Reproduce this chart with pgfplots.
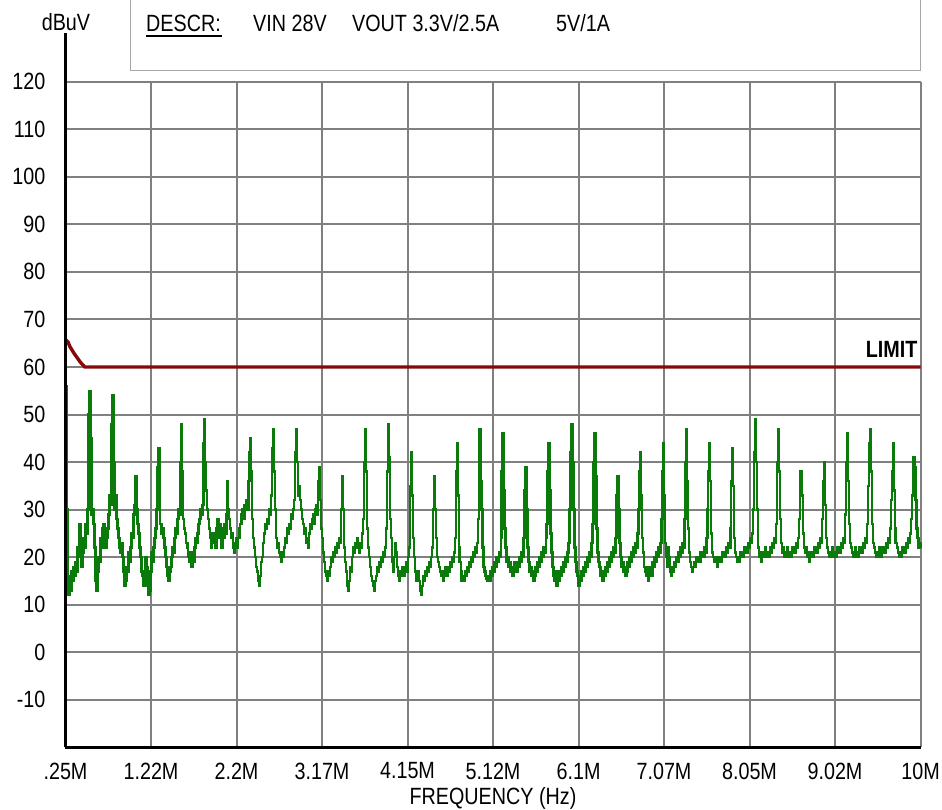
\documentclass[border=0pt]{standalone}
\usepackage{pgfplots}
\pgfplotsset{compat=1.18}
\usepackage{fontspec}
\setmainfont[FakeStretch=0.84]{Liberation Sans}
\definecolor{trace}{RGB}{10,122,10}
\definecolor{limitc}{RGB}{135,8,8}
\definecolor{gridc}{RGB}{128,128,128}
\newcommand{\lbl}{\fontsize{23.5}{28}\selectfont}
\begin{document}
\begin{tikzpicture}
\begin{axis}[
 name=ax, anchor=south west,
 width=855pt, height=665.7pt, scale only axis,
 xmin=0.25, xmax=10, ymin=-20, ymax=120,
 xtick={0.25,1.225,2.2,3.175,4.15,5.125,6.1,7.075,8.05,9.025,10},
 xticklabels={.25M,1.22M,2.2M,3.17M,4.15M,5.12M,6.1M,7.07M,8.05M,9.02M,10M},
 ytick={-10,0,10,20,30,40,50,60,70,80,90,100,110,120},
 yticklabels={-10,0,10,20,30,40,50,60,70,80,90,100,110,120},
 major tick length=0pt,
 grid=major,
 major grid style={gridc, line width=2pt},
 axis line style={draw=none},
 tick label style={font=\lbl},
 xticklabel style={anchor=north, inner sep=0pt, yshift=-15pt},
 yticklabel style={anchor=east, inner sep=0pt, xshift=-20pt},
 clip=false,
]
\addplot[trace, line width=2.4pt, const plot, mark=none] coordinates {
(0.250,42)(0.255,56)(0.262,50)(0.268,30)(0.274,15)(0.285,12)(0.296,16)(0.307,13)
(0.318,17)(0.330,15)(0.341,18)(0.352,16)(0.364,19)(0.375,17)(0.387,22)(0.398,20)
(0.410,27)(0.421,22)(0.432,18)(0.444,21)(0.455,24)(0.467,22)(0.478,27)(0.490,25)
(0.500,30)(0.511,50)(0.523,55)(0.535,45)(0.546,29)(0.557,30)(0.569,27)(0.580,22)
(0.592,15)(0.603,13)(0.615,17)(0.626,20)(0.638,19)(0.649,24)(0.660,22)(0.672,26)
(0.684,27)(0.695,25)(0.706,22)(0.718,24)(0.729,26)(0.741,29)(0.752,33)(0.764,31)
(0.773,48)(0.785,54)(0.797,40)(0.808,30)(0.820,33)(0.831,28)(0.843,26)(0.854,24)
(0.866,22)(0.877,21)(0.889,23)(0.900,20)(0.912,17)(0.923,14)(0.935,15)(0.946,18)
(0.958,17)(0.969,21)(0.981,19)(0.992,22)(1.004,25)(1.015,24)(1.027,29)(1.038,31)
(1.047,37)(1.058,30)(1.070,27)(1.081,25)(1.093,22)(1.104,20)(1.116,17)(1.127,16)
(1.139,14)(1.150,16)(1.162,20)(1.173,18)(1.185,14)(1.196,12)(1.208,13)(1.219,17)
(1.231,21)(1.242,19)(1.254,22)(1.265,24)(1.277,26)(1.288,30)(1.300,39)(1.309,43)
(1.320,34)(1.331,27)(1.343,25)(1.354,26)(1.366,24)(1.377,22)(1.389,20)(1.400,18)
(1.412,16)(1.423,15)(1.435,17)(1.446,18)(1.458,20)(1.469,22)(1.481,21)(1.492,24)
(1.504,26)(1.515,25)(1.527,28)(1.538,30)(1.550,29)(1.561,40)(1.570,48)(1.581,38)
(1.593,28)(1.604,26)(1.616,25)(1.627,23)(1.639,22)(1.650,20)(1.662,19)(1.673,21)
(1.685,18)(1.696,20)(1.708,19)(1.719,22)(1.731,24)(1.742,23)(1.754,25)(1.765,27)
(1.777,28)(1.788,30)(1.800,29)(1.812,31)(1.822,44)(1.832,49)(1.843,40)(1.855,34)
(1.866,30)(1.878,28)(1.889,26)(1.901,24)(1.912,22)(1.924,25)(1.935,23)(1.947,25)
(1.958,22)(1.970,26)(1.981,28)(1.993,24)(2.004,27)(2.016,25)(2.027,22)(2.039,26)
(2.050,24)(2.062,27)(2.073,25)(2.084,29)(2.094,36)(2.105,30)(2.117,28)(2.128,26)
(2.140,24)(2.151,25)(2.163,22)(2.174,21)(2.186,23)(2.197,24)(2.209,22)(2.220,24)
(2.232,26)(2.243,27)(2.255,29)(2.266,30)(2.278,28)(2.289,31)(2.301,30)(2.312,32)
(2.324,30)(2.335,36)(2.346,42)(2.355,45)(2.366,38)(2.378,28)(2.389,24)(2.401,22)
(2.412,20)(2.424,18)(2.435,17)(2.447,15)(2.458,14)(2.470,16)(2.481,19)(2.493,20)
(2.504,23)(2.516,25)(2.527,27)(2.539,26)(2.550,28)(2.562,27)(2.573,30)(2.585,29)
(2.596,33)(2.607,43)(2.617,47)(2.628,38)(2.640,30)(2.651,24)(2.663,22)(2.674,23)
(2.686,21)(2.697,20)(2.709,19)(2.720,21)(2.732,20)(2.743,22)(2.755,24)(2.766,23)
(2.778,26)(2.789,25)(2.801,27)(2.812,26)(2.824,29)(2.835,28)(2.847,30)(2.858,32)
(2.869,42)(2.879,47)(2.890,40)(2.902,33)(2.913,35)(2.925,32)(2.936,30)(2.948,28)
(2.959,27)(2.971,25)(2.982,26)(2.994,23)(3.005,24)(3.017,22)(3.028,25)(3.040,27)
(3.051,26)(3.063,28)(3.074,29)(3.086,27)(3.097,30)(3.109,31)(3.120,29)(3.131,36)
(3.140,39)(3.151,32)(3.163,26)(3.174,24)(3.186,21)(3.197,19)(3.209,17)(3.220,16)
(3.232,15)(3.243,17)(3.255,16)(3.266,18)(3.278,20)(3.289,19)(3.301,21)(3.312,20)
(3.324,22)(3.335,21)(3.347,23)(3.358,22)(3.370,24)(3.381,23)(3.393,30)(3.402,37)
(3.413,30)(3.425,22)(3.436,19)(3.448,17)(3.459,14)(3.471,13)(3.482,15)(3.494,18)
(3.505,17)(3.517,20)(3.528,22)(3.540,21)(3.551,23)(3.563,22)(3.574,24)(3.586,22)
(3.597,21)(3.609,23)(3.620,22)(3.632,25)(3.643,28)(3.654,40)(3.664,47)(3.675,38)
(3.687,26)(3.698,22)(3.710,20)(3.721,18)(3.733,16)(3.744,15)(3.756,14)(3.767,13)
(3.779,15)(3.790,16)(3.802,18)(3.813,17)(3.825,19)(3.836,18)(3.848,20)(3.859,19)
(3.871,21)(3.882,20)(3.894,22)(3.905,26)(3.916,38)(3.926,48)(3.937,41)(3.949,28)
(3.960,24)(3.972,19)(3.983,17)(3.995,20)(4.006,23)(4.018,21)(4.029,18)(4.041,16)
(4.052,15)(4.064,17)(4.075,16)(4.087,18)(4.098,17)(4.110,16)(4.121,18)(4.133,19)
(4.144,17)(4.156,20)(4.167,22)(4.178,35)(4.187,42)(4.198,33)(4.210,24)(4.221,20)
(4.233,17)(4.244,15)(4.256,16)(4.267,17)(4.279,15)(4.290,13)(4.302,12)(4.313,14)
(4.325,16)(4.336,15)(4.348,17)(4.359,16)(4.371,18)(4.382,17)(4.394,19)(4.405,18)
(4.417,20)(4.428,22)(4.440,30)(4.449,37)(4.460,30)(4.472,24)(4.483,20)(4.495,19)
(4.506,18)(4.518,17)(4.529,16)(4.541,17)(4.552,15)(4.564,16)(4.575,18)(4.587,17)
(4.598,16)(4.610,18)(4.621,17)(4.633,19)(4.644,18)(4.656,20)(4.667,19)(4.679,21)
(4.690,24)(4.701,38)(4.711,44)(4.722,33)(4.734,22)(4.745,19)(4.757,17)(4.768,15)
(4.780,16)(4.791,15)(4.803,17)(4.814,16)(4.826,18)(4.837,17)(4.849,19)(4.860,18)
(4.872,20)(4.883,19)(4.895,21)(4.906,20)(4.918,22)(4.929,21)(4.941,23)(4.952,28)
(4.963,40)(4.972,47)(4.983,36)(4.995,30)(5.006,22)(5.018,18)(5.029,17)(5.041,16)
(5.052,15.5)(5.064,15)(5.075,16)(5.087,15)(5.098,17)(5.110,16)(5.121,18)(5.133,17)
(5.144,19)(5.156,18)(5.167,20)(5.179,19)(5.190,21)(5.202,20)(5.213,24)(5.224,38)
(5.234,46)(5.245,34)(5.257,26)(5.268,22)(5.280,19)(5.291,20)(5.303,18)(5.314,19)
(5.326,17)(5.337,18)(5.349,16)(5.360,17)(5.372,19)(5.383,18)(5.395,17)(5.406,19)
(5.418,18)(5.429,20)(5.441,19)(5.452,21)(5.464,20)(5.475,24)(5.486,34)(5.496,39)
(5.507,30)(5.519,22)(5.530,19)(5.542,17)(5.553,18)(5.565,16)(5.576,17)(5.588,15)
(5.599,16)(5.611,18)(5.622,17)(5.634,19)(5.645,18)(5.657,20)(5.668,19)(5.680,21)
(5.691,20)(5.703,22)(5.714,21)(5.726,24)(5.737,27)(5.748,38)(5.757,44)(5.768,34)
(5.780,25)(5.791,21)(5.803,18)(5.814,16)(5.826,15)(5.837,17)(5.849,14)(5.860,16)
(5.872,15)(5.883,17)(5.895,16)(5.906,18)(5.918,17)(5.929,19)(5.941,18)(5.952,20)
(5.964,19)(5.975,21)(5.987,23)(5.998,30)(6.010,42)(6.019,48)(6.030,40)(6.042,30)
(6.053,22)(6.065,19)(6.076,17)(6.088,16)(6.099,14)(6.111,16)(6.122,15)(6.134,17)
(6.145,16)(6.157,18)(6.168,17)(6.180,19)(6.191,18)(6.203,20)(6.214,19)(6.226,21)
(6.237,20)(6.249,23)(6.260,27)(6.271,40)(6.281,46)(6.292,37)(6.304,26)(6.315,21)
(6.327,19)(6.338,18)(6.350,16)(6.361,17)(6.373,15)(6.384,17)(6.396,16)(6.407,18)
(6.419,17)(6.430,19)(6.442,18)(6.453,20)(6.465,19)(6.476,21)(6.488,20)(6.499,22)
(6.511,21)(6.522,24)(6.533,33)(6.543,37)(6.554,30)(6.566,23)(6.577,20)(6.589,18)
(6.600,19)(6.612,17)(6.623,18)(6.635,16)(6.646,17)(6.658,19)(6.669,18)(6.681,20)
(6.692,19)(6.704,21)(6.715,20)(6.727,22)(6.738,21)(6.750,23)(6.761,22)(6.773,25)
(6.784,30)(6.795,38)(6.804,42)(6.815,33)(6.827,24)(6.838,21)(6.850,18)(6.861,17)
(6.873,16)(6.884,18)(6.896,15)(6.907,17)(6.919,18)(6.930,16)(6.942,19)(6.953,18)
(6.965,20)(6.976,19)(6.988,21)(6.999,20)(7.011,22)(7.022,21)(7.034,23)(7.045,28)
(7.056,38)(7.066,44)(7.077,33)(7.089,23)(7.100,20)(7.112,18)(7.123,22)(7.135,20)
(7.146,17)(7.158,16)(7.169,18)(7.181,17)(7.192,19)(7.204,18)(7.215,20)(7.227,19)
(7.238,21)(7.250,20)(7.261,22)(7.273,21)(7.284,23)(7.296,22)(7.307,28)(7.318,40)
(7.328,47)(7.339,36)(7.351,26)(7.362,21)(7.374,19)(7.385,18)(7.397,17)(7.408,18)
(7.420,19)(7.431,18)(7.443,20)(7.454,19)(7.466,20)(7.477,19)(7.489,21)(7.500,20)
(7.512,21)(7.523,20)(7.535,22)(7.546,21)(7.558,24)(7.569,30)(7.580,38)(7.589,44)
(7.600,36)(7.612,25)(7.623,21)(7.635,20)(7.646,19)(7.658,20)(7.669,19)(7.681,18)
(7.692,20)(7.704,19)(7.715,20)(7.727,19)(7.738,21)(7.750,20)(7.761,21)(7.773,20)
(7.785,22)(7.796,21)(7.808,23)(7.819,22)(7.831,26)(7.842,36)(7.851,43)(7.862,35)
(7.874,24)(7.885,21)(7.897,20)(7.908,19)(7.920,20)(7.931,19)(7.943,21)(7.954,20)
(7.966,21)(7.977,20)(7.989,22)(8.000,21)(8.012,22)(8.023,21)(8.035,23)(8.046,22)
(8.058,24)(8.069,23)(8.081,25)(8.092,30)(8.103,42)(8.113,49)(8.124,40)(8.136,30)
(8.147,22)(8.159,20)(8.170,21)(8.182,19)(8.193,20)(8.205,21)(8.216,20)(8.228,22)
(8.239,21)(8.251,20)(8.262,21)(8.274,20)(8.285,22)(8.297,21)(8.308,23)(8.320,22)
(8.331,24)(8.343,23)(8.354,27)(8.365,40)(8.374,47)(8.385,38)(8.397,28)(8.408,23)
(8.420,21)(8.431,22)(8.443,20)(8.454,21)(8.466,20)(8.477,22)(8.489,21)(8.500,20)
(8.512,21)(8.523,20)(8.535,22)(8.546,21)(8.558,22)(8.569,21)(8.581,23)(8.592,22)
(8.604,24)(8.615,28)(8.626,38)(8.636,38)(8.647,33)(8.659,25)(8.670,22)(8.682,21)
(8.693,22)(8.705,20)(8.716,21)(8.728,19)(8.739,21)(8.751,20)(8.762,21)(8.774,20)
(8.785,22)(8.797,21)(8.808,22)(8.820,21)(8.831,23)(8.843,22)(8.854,24)(8.866,23)
(8.877,28)(8.888,36)(8.898,40)(8.909,31)(8.921,24)(8.932,22)(8.944,21)(8.955,20)
(8.967,21)(8.978,20)(8.990,22)(9.001,21)(9.013,20)(9.024,21)(9.036,20)(9.047,22)
(9.059,21)(9.070,22)(9.082,21)(9.093,23)(9.105,22)(9.116,24)(9.128,23)(9.139,29)
(9.150,40)(9.160,46)(9.171,36)(9.183,27)(9.194,23)(9.206,22)(9.217,21)(9.229,20)
(9.240,21)(9.252,22)(9.263,20)(9.275,21)(9.286,20)(9.298,22)(9.309,21)(9.321,22)
(9.332,21)(9.344,23)(9.355,22)(9.367,24)(9.378,23)(9.390,27)(9.401,35)(9.412,44)
(9.421,47)(9.432,38)(9.444,27)(9.455,23)(9.467,22)(9.478,21)(9.490,20)(9.501,21)
(9.513,20)(9.524,22)(9.536,21)(9.547,20)(9.559,22)(9.570,21)(9.582,22)(9.593,21)
(9.605,23)(9.616,22)(9.628,24)(9.639,23)(9.651,26)(9.662,32)(9.673,38)(9.683,44)
(9.694,34)(9.706,26)(9.717,23)(9.729,22)(9.740,21)(9.752,20)(9.763,21)(9.775,20)
(9.786,22)(9.798,21)(9.809,22)(9.821,21)(9.832,23)(9.844,22)(9.855,24)(9.867,23)
(9.878,25)(9.890,28)(9.901,33)(9.912,38)(9.921,41)(9.933,39)(9.944,32)(9.956,26)
(9.967,24)(9.979,22)(9.990,23)(10.000,22)
};
\addplot[limitc, line width=3.4pt, mark=none] coordinates {
(0.25,65.8)(0.28,65.2)(0.30,64.3)(0.35,62.8)(0.42,61.0)(0.47,60)(10,60)
};
\draw[black, line width=3.5pt] (rel axis cs:0,0) -- ([yshift=49pt]rel axis cs:0,1);
\draw[black, line width=3pt] (rel axis cs:0,0) -- (rel axis cs:1,0);
\node[anchor=south east, inner sep=0pt, font=\lbl\bfseries, xshift=-3pt] at (axis cs:10,62) {LIMIT};
\node[anchor=north, inner sep=0pt, font=\lbl] at ([yshift=-40pt]rel axis cs:0.5,0) {FREQUENCY (Hz)};
\end{axis}
\coordinate (O) at ([xshift=-65.5pt,yshift=-61.6pt]ax.south west);
\draw[gray!70, line width=1pt] ([shift={(130pt,738pt)}]O) rectangle ([shift={(920pt,830pt)}]O);
\node[anchor=base west, inner sep=0pt, font=\lbl] at ([shift={(146pt,777.5pt)}]O) {DESCR:};
\draw[black, line width=2pt] ([shift={(146pt,773pt)}]O) -- ([shift={(222pt,773pt)}]O);
\node[anchor=base west, inner sep=0pt, font=\lbl] at ([shift={(253pt,777.5pt)}]O) {VIN 28V};
\node[anchor=base west, inner sep=0pt, font=\lbl] at ([shift={(352pt,777.5pt)}]O) {VOUT 3.3V/2.5A};
\node[anchor=base west, inner sep=0pt, font=\lbl] at ([shift={(556pt,777.5pt)}]O) {5V/1A};
\node[inner sep=0pt, font=\lbl] at ([shift={(66pt,787pt)}]O) {dBuV};
\pgfresetboundingbox
\useasboundingbox (O) rectangle ([shift={(942pt,809pt)}]O);
\end{tikzpicture}
\end{document}
